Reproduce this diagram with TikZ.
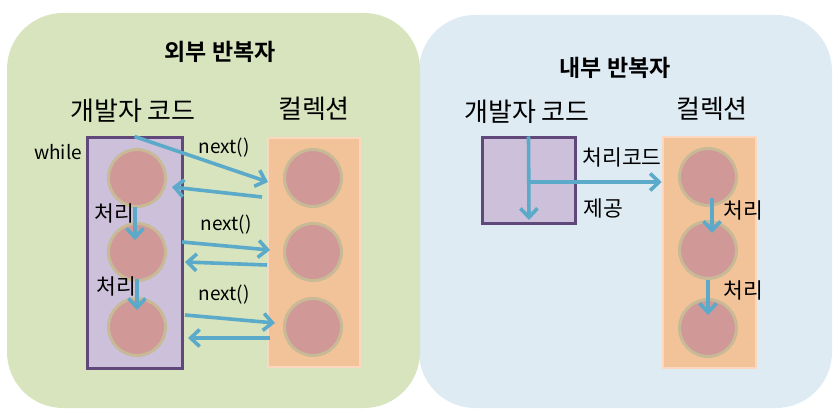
\documentclass[tikz,border=0pt]{standalone}
\usepackage{fontspec}
\setmainfont{Noto Sans CJK KR}[BoldFont={Noto Sans CJK KR Bold}]
\usetikzlibrary{arrows.meta}

\definecolor{outerbg}{RGB}{216,228,190}
\definecolor{innerbg}{RGB}{222,235,243}
\definecolor{devfill}{RGB}{204,192,218}
\definecolor{devline}{RGB}{96,73,122}
\definecolor{colfill}{RGB}{242,194,152}
\definecolor{colline}{RGB}{250,215,190}
\definecolor{elemfill}{RGB}{208,152,150}
\definecolor{elemline}{RGB}{200,186,150}
\definecolor{flowc}{RGB}{91,170,201}

\tikzset{
  panel/.style={rounded corners=56pt},
  devbox/.style={draw=devline, fill=devfill, line width=3pt, inner sep=0},
  colbox/.style={draw=colline, fill=colfill, line width=2.5pt, inner sep=0},
  elem/.style={circle, draw=elemline, fill=elemfill, line width=3pt, minimum size=57pt, inner sep=0},
  flow/.style={draw=flowc, line width=3.6pt, -{Straight Barb[length=9pt,width=17pt]}},
  hdr/.style={font=\fontsize{26}{26}\selectfont},
  ttl/.style={font=\fontsize{23}{23}\selectfont\bfseries},
  lbl/.style={font=\fontsize{19}{19}\selectfont},
  klbl/.style={font=\fontsize{21.5}{21.5}\selectfont},
}

\begin{document}
\begin{tikzpicture}[x=1pt, y=-1pt]
      \useasboundingbox (0,0) rectangle (840,414);
      % panels
      \fill[innerbg, panel] (419,15) rectangle (832,408);
      \fill[outerbg, panel] (7,13) rectangle (420,408);
      \node[ttl] (outerT) at (220,52) {외부 반복자};
      \node[ttl] (innerT) at (615,68) {내부 반복자};

      % External iterator
      \node[hdr] (devLT) at (133,111) {개발자 코드};
      \node[hdr] (colLT) at (314,109) {컬렉션};
      \node[devbox, minimum width=95pt, minimum height=230pt] (devL) at (134.5,253) {};
      \node[colbox, minimum width=92pt, minimum height=229pt] (colL) at (314,252.5) {};
      \foreach \i/\y in {1/178, 2/252, 3/327} {
        \node[elem] (dl\i) at (137,\y) {};
        \node[elem] (cl\i) at (313,\y) {};
      }
      \node[lbl] (while) at (58,152) {while};
      \foreach \n/\x/\y in {a1/268/182, b1s/262/197, b1/172/187,
                            a2s/182/242, a2/270/250, b2s/267/265, b2/185/262,
                            a3s/185/315, a3/275/323, b3s/270/338, b3/188/338,
                            p1s/135/207, p1/135/240, p2s/137/279, p2/137/310}
        \coordinate (\n) at (\x,\y);
      \foreach \s/\t in {devL.north/a1, b1s/b1, a2s/a2, b2s/b2, a3s/a3, b3s/b3, p1s/p1, p2s/p2}
        \draw[flow] (\s) -- (\t);
      \node[lbl] (nx1) at (224,148) {next()};
      \node[lbl] (nx2) at (226,225) {next()};
      \node[lbl] (nx3) at (224,295) {next()};
      \node[klbl] (pr1) at (114,213) {처리};
      \node[klbl] (pr2) at (116,286) {처리};

      % Internal iterator
      \node[hdr] (devRT) at (527,112) {개발자 코드};
      \node[hdr] (colRT) at (712,109) {컬렉션};
      \node[devbox, minimum width=93pt, minimum height=85pt] (devR) at (528.5,180.5) {};
      \node[colbox, minimum width=93pt, minimum height=231pt] (colR) at (709.5,252.5) {};
      \foreach \i/\y in {1/177, 2/250, 3/328}
        \node[elem] (cr\i) at (708,\y) {};
      \foreach \n/\x/\y in {v1/529/220, hs/529/182, q1s/712/198, q1/712/233, q2s/708/280, q2/708/315}
        \coordinate (\n) at (\x,\y);
      \draw[flow] (devR.north) -- (v1);
      \draw[flow] (hs) -- (colR.west |- hs);
      \draw[flow] (q1s) -- (q1);
      \draw[flow] (q2s) -- (q2);
      \node[klbl] (code) at (622,157) {처리코드};
      \node[klbl] (give) at (603,208) {제공};
      \node[klbl] (pr3) at (743,210) {처리};
      \node[klbl] (pr4) at (743,290) {처리};
\end{tikzpicture}
\end{document}
